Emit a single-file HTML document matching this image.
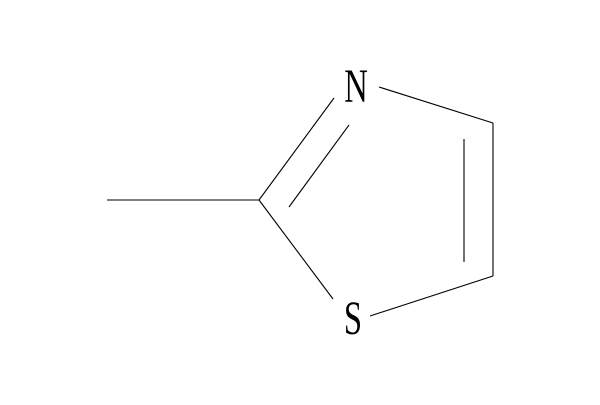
<!DOCTYPE html>
<html><head><style>html,body{margin:0;padding:0;background:#fff}</style></head>
<body>
<svg width="600" height="400" viewBox="0 0 600 400" xmlns="http://www.w3.org/2000/svg">
<g stroke="#000" stroke-width="1.1" fill="none">
<line x1="107" y1="200" x2="259" y2="200"/>
<line x1="259" y1="200" x2="334" y2="98"/>
<line x1="289" y1="207" x2="349" y2="125"/>
<line x1="379" y1="87" x2="493" y2="123"/>
<line x1="493" y1="123" x2="493" y2="276"/>
<line x1="464" y1="139" x2="464" y2="262"/>
<line x1="493" y1="276" x2="370" y2="316"/>
<line x1="259" y1="200" x2="333" y2="299"/>
</g>
<g font-family="Liberation Serif, serif" font-size="48" fill="#000" text-anchor="middle">
<text transform="translate(356,102) scale(0.68,1)">N</text>
<text transform="translate(353,334) scale(0.68,1)">S</text>
</g>
</svg>
</body></html>
